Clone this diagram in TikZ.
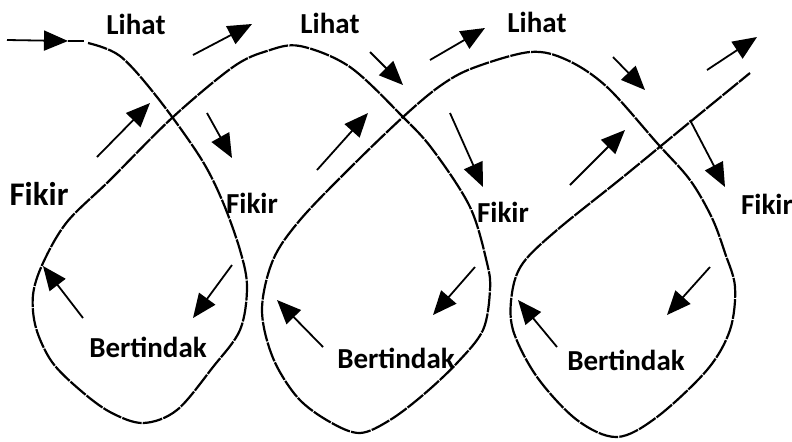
\documentclass[tikz,border=0pt]{standalone}
\usepackage{fontspec}
\setmainfont{Carlito}
\usetikzlibrary{arrows.meta}

\begin{document}
\begin{tikzpicture}[x=0.5pt, y=-0.5pt,
             every node/.style = {font=\bfseries\fontsize{14.5}{16}\selectfont, inner sep=0pt},
             coil/.style={line width=1.1pt, dash pattern=on 10pt off 0.6pt},
             flow/.style={line width=0.9pt, -{Triangle[length=12pt, width=10pt]}}]
\useasboundingbox (0,0) rectangle (792,441);

% the looping path
\draw[coil] plot[smooth, tension=0.55] coordinates {
  (88,43) (120,56) (157,97) (200,157) (222,200) (240,250) (247,287)
  (240,330) (213,367) (177,410) (143,423) (110,412) (80,390) (52,362)
  (36,328) (33,295) (43,263) (67,222) (110,180) (173,117) (233,67)
  (267,51) (300,46) (350,67) (403,117) (433,150) (470,207) (487,263)
  (490,290) (483,330) (457,363) (423,395) (390,420) (360,433) (330,422)
  (298,398) (273,358) (262,310) (273,260) (300,220) (350,168) (403,117)
  (440,86) (473,68) (530,52) (567,60) (607,87) (657,143) (690,180)
  (712,218) (725,253) (735,287) (730,330) (707,370) (657,417) (617,437)
  (577,420) (537,377) (513,330) (512,293) (523,263) (557,230) (623,177)
  (690,122) (750,73)};

% small arrows
\draw[flow] (7,40) -- (68,41);
\draw[line width=0.9pt] (68,41) -- (84,41);
\foreach \xa/\ya/\xb/\yb in {193/55/252/24, 370/52/403/85, 430/60/485/28,
    613/57/645/90, 707/70/757/37, 97/157/150/103, 207/113/232/158,
    317/170/368/113, 450/113/483/187, 570/185/625/130, 690/120/725/187,
    83/318/43/266, 232/265/193/318, 323/347/277/300, 475/267/433/315,
    557/347/518/300, 710/267/667/315}
  \draw[flow] (\xa,\ya) -- (\xb,\yb);

% labels
\node (lihat1) at (136,24) {Lihat};
\node (lihat2) at (330,23) {Lihat};
\node (lihat3) at (537,22) {Lihat};
\node[font=\bfseries\fontsize{16.5}{18}\selectfont] (fikir0) at (39,194) {Fikir};
\node (fikir1) at (252,203) {Fikir};
\node (fikir2) at (503,212) {Fikir};
\node (fikir3) at (767,204) {Fikir};
\node (act1) at (148,347) {Bertindak};
\node (act2) at (396,358) {Bertindak};
\node (act3) at (626,360) {Bertindak};
\end{tikzpicture}
\end{document}
